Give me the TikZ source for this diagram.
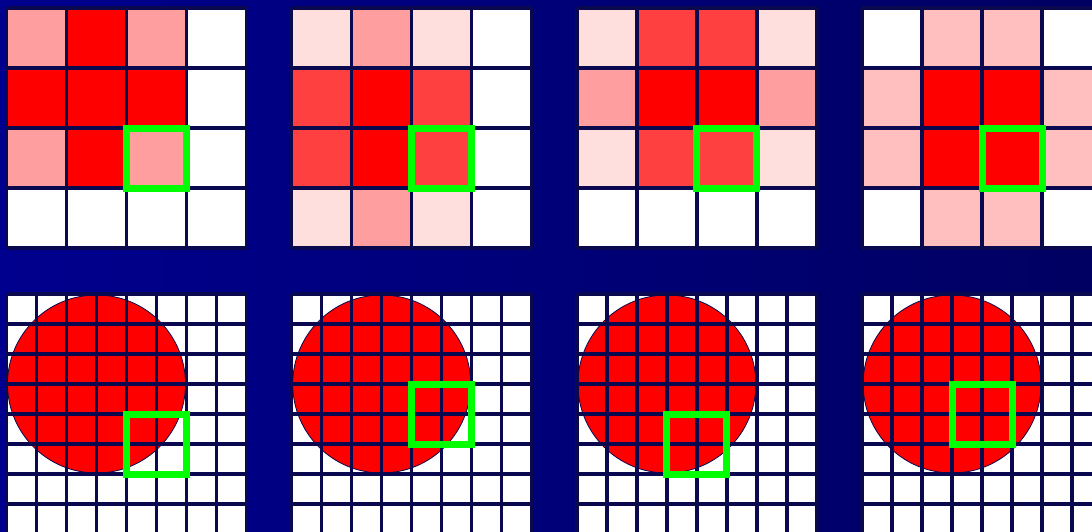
\documentclass[tikz,border=0pt]{standalone}
\definecolor{fondoA}{RGB}{0,0,142}
\definecolor{fondoB}{RGB}{0,0,98}
\definecolor{linea}{RGB}{10,8,78}
\definecolor{verde}{RGB}{0,255,0}
\colorlet{rojo}{red}
\colorlet{medio}{red!75}
\colorlet{rosa}{red!38}
\colorlet{claro}{red!25}
\colorlet{palido}{red!13}
\tikzset{
  rejilla/.style={line width=3.3pt, draw=linea},
  marco/.style={line width=7pt, draw=verde}
}
\begin{document}
\begin{tikzpicture}[x=1pt,y=-1pt]
% Fondo
\shade[left color=fondoA, right color=fondoB] (0,0) rectangle (1092,531);
\useasboundingbox (0,0) rectangle (1092,531);

% Pixeles gruesos (arriba)
\foreach \xo/\celdas in {
  6.5/{0/0/rosa,1/0/rojo,2/0/rosa,0/1/rojo,1/1/rojo,2/1/rojo,0/2/rosa,1/2/rojo,2/2/rosa},
  291.7/{0/0/palido,1/0/rosa,2/0/palido,0/1/medio,1/1/rojo,2/1/medio,0/2/medio,1/2/rojo,2/2/medio,0/3/palido,1/3/rosa,2/3/palido},
  576.9/{0/0/palido,1/0/medio,2/0/medio,3/0/palido,0/1/rosa,1/1/rojo,2/1/rojo,3/1/rosa,0/2/palido,1/2/medio,2/2/medio,3/2/palido},
  862.1/{1/0/claro,2/0/claro,0/1/claro,1/1/rojo,2/1/rojo,3/1/claro,0/2/claro,1/2/rojo,2/2/rojo,3/2/claro,1/3/claro,2/3/claro}} {
  \fill[white] (\xo,8) rectangle ++(240,240);
  \foreach \c/\r/\col in \celdas
    \fill[\col] (\xo+60*\c,8+60*\r) rectangle ++(60,60);
  \foreach \k in {0,...,4} {
    \draw[rejilla] (\xo+60*\k,8) -- ++(0,240);
    \draw[rejilla] (\xo,8+60*\k) -- ++(240,0);
  }
  \draw[marco] (\xo+120,128) rectangle ++(60,60);
}

% Circulo sobre la rejilla fina (abajo)
\foreach \xo/\gx/\gy in {6.5/4/4, 291.7/4/3, 576.9/3/4, 862.1/3/3} {
  \fill[white] (\xo,294) rectangle ++(240,240);
  \filldraw[fill=rojo, draw=linea, line width=0.8pt] (\xo+90,384) circle[radius=89];
  \foreach \k in {0,...,8} {
    \draw[rejilla] (\xo+30*\k,294) -- ++(0,240);
    \draw[rejilla] (\xo,294+30*\k) -- ++(240,0);
  }
  \draw[marco] (\xo+30*\gx,294+30*\gy) rectangle ++(60,60);
}
\end{tikzpicture}
\end{document}
